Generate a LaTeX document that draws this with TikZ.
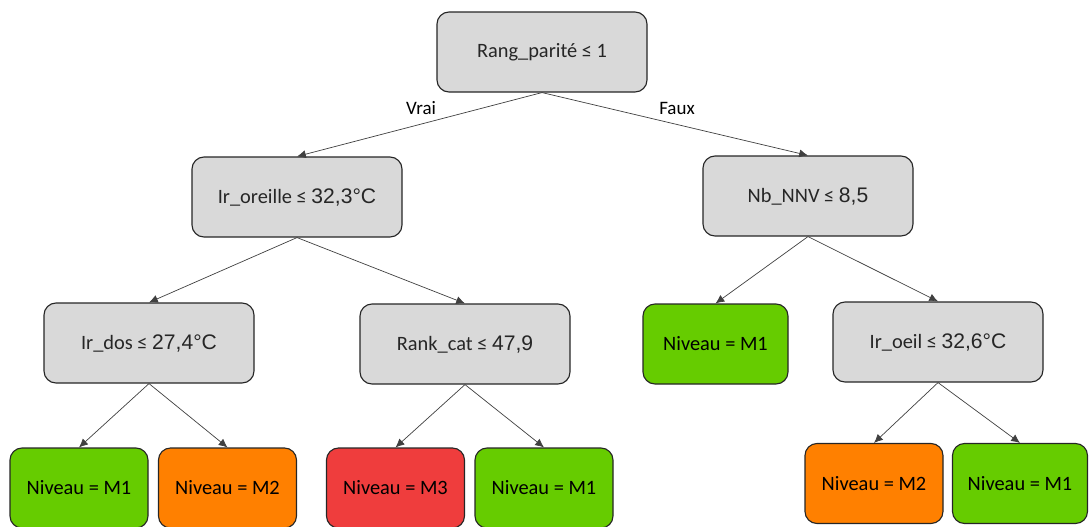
\documentclass[tikz,border=0pt]{standalone}
\usepackage{fontspec}
\setmainfont{Carlito}
\newfontfamily\valfont{Liberation Sans}
\usepackage{tikz}
\usetikzlibrary{arrows.meta}
\newcommand{\val}[1]{{\valfont\fontsize{15}{17}\selectfont #1}}
\definecolor{testgray}{HTML}{D9D9D9}
\definecolor{levelgreen}{HTML}{66CC00}
\definecolor{levelorange}{HTML}{FF8000}
\definecolor{levelred}{HTML}{EF3D3D}
\definecolor{edgeink}{HTML}{404040}

\tikzset{
  testbox/.style={draw=black!85,line width=0.8pt,rounded corners=0.3cm,fill=testgray,
    minimum width=5.25cm,minimum height=2cm,font=\fontsize{14.5}{17}\selectfont,text=black!85},
  leafbox/.style={draw=black!85,line width=0.8pt,rounded corners=0.3cm,
    minimum width=3.45cm,minimum height=2cm,font=\fontsize{14.5}{17}\selectfont},
  edge/.style={draw=edgeink,line width=0.5pt,-{Latex[length=2.2mm,width=2mm]}},
  branch/.style={font=\fontsize{13.5}{16}\selectfont}
}

\begin{document}
\begin{tikzpicture}
\useasboundingbox (0,0) rectangle (27.225,-13.15);
% tests
\node[testbox] (root) at (13.55,-1.3) {Rang\_parité ≤ 1};
\node[testbox] (oreille) at (7.425,-4.925) {Ir\_oreille ≤ \val{32,3°C}};
\node[testbox] (nnv) at (20.2,-4.9) {Nb\_NNV ≤ \val{8,5}};
\node[testbox] (dos) at (3.725,-8.575) {Ir\_dos ≤ \val{27,4°C}};
\node[testbox] (rank) at (11.625,-8.6) {Rank\_cat ≤ \val{47,9}};
\node[testbox] (oeil) at (23.45,-8.55) {Ir\_oeil ≤ \val{32,6°C}};
% leaves
\node[leafbox,fill=levelgreen,minimum width=3.625cm] (nnvM1) at (17.8875,-8.6) {Niveau = M1};
\node[leafbox,fill=levelgreen] (dosM1) at (1.975,-12.2) {Niveau = M1};
\node[leafbox,fill=levelorange] (dosM2) at (5.6875,-12.2) {Niveau = M2};
\node[leafbox,fill=levelred] (rankM3) at (9.8875,-12.2) {Niveau = M3};
\node[leafbox,fill=levelgreen] (rankM1) at (13.6,-12.2) {Niveau = M1};
\node[leafbox,fill=levelorange] (oeilM2) at (21.85,-12.0875) {Niveau = M2};
\node[leafbox,fill=levelgreen,minimum width=3.375cm] (oeilM1) at (25.5,-12.0875) {Niveau = M1};
% branches
\draw[edge] (root.south) -- (oreille.north);
\draw[edge] (root.south) -- (nnv.north);
\node[branch] (vrai) at (10.525,-2.7) {Vrai};
\node[branch] (faux) at (16.925,-2.7) {Faux};
\draw[edge] (oreille.south) -- (dos.north);
\draw[edge] (oreille.south) -- (rank.north);
\draw[edge] (nnv.south) -- (nnvM1.north);
\draw[edge] (nnv.south) -- (oeil.north);
\draw[edge] (dos.south) -- (dosM1.north);
\draw[edge] (dos.south) -- (dosM2.north);
\draw[edge] (rank.south) -- (rankM3.north);
\draw[edge] (rank.south) -- (rankM1.north);
\draw[edge] (oeil.south) -- (oeilM2.north);
\draw[edge] (oeil.south) -- (oeilM1.north);
\end{tikzpicture}
\end{document}
